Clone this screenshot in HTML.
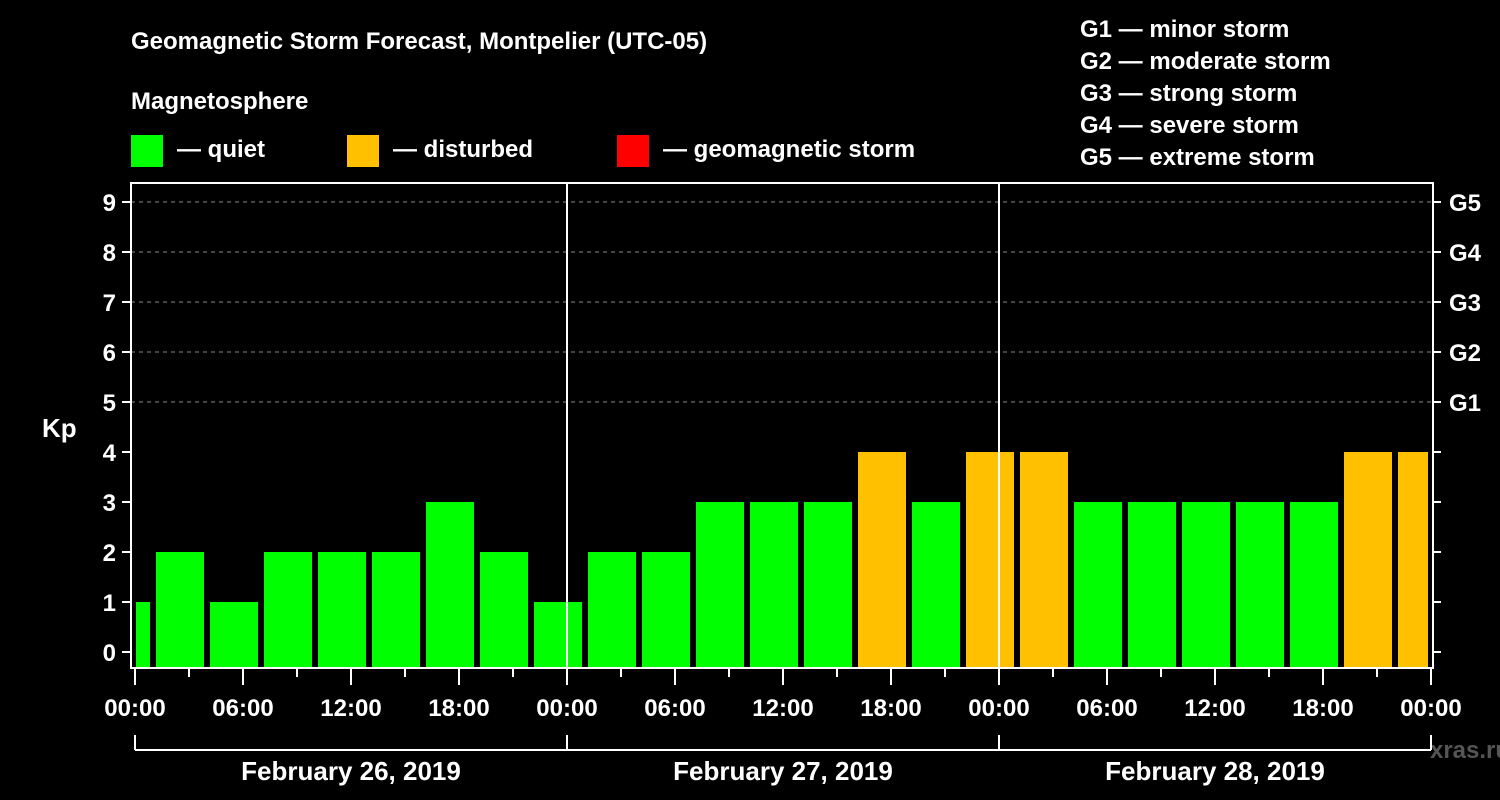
<!DOCTYPE html>
<html><head><meta charset="utf-8"><style>
html,body{margin:0;padding:0;background:#000;}
svg{display:block;font-family:"Liberation Sans",Arial,sans-serif;font-weight:bold;}
</style></head><body>
<svg id="chart" width="1500" height="800" viewBox="0 0 1500 800">
<rect width="1500" height="800" fill="#000"/>
<text x="131" y="49" fill="#fff" font-size="24">Geomagnetic Storm Forecast, Montpelier (UTC-05)</text>
<text x="131" y="109" fill="#fff" font-size="24">Magnetosphere</text>
<g><rect x="131" y="135" width="32" height="32" fill="#00ff00"/><text x="177" y="157" fill="#fff" font-size="24">— quiet</text></g>
<g><rect x="347" y="135" width="32" height="32" fill="#ffc000"/><text x="393" y="157" fill="#fff" font-size="24">— disturbed</text></g>
<g><rect x="617" y="135" width="32" height="32" fill="#ff0000"/><text x="663" y="157" fill="#fff" font-size="24">— geomagnetic storm</text></g>
<g fill="#fff" font-size="24">
<text x="1080" y="37">G1 — minor storm</text>
<text x="1080" y="69">G2 — moderate storm</text>
<text x="1080" y="101">G3 — strong storm</text>
<text x="1080" y="133">G4 — severe storm</text>
<text x="1080" y="165">G5 — extreme storm</text>
</g>
<text x="42" y="437" fill="#fff" font-size="26">Kp</text>
<text x="1470" y="758" fill="#555" font-size="24" text-anchor="middle">xras.ru</text>
<g id="grid"></g><g id="bars"></g><g id="axes"></g>
</svg>
<script>
const kpValues=[1,2,1,2,2,2,3,2,1,2,2,3,3,3,4,3,4,4,3,3,3,3,3,4,4];
const kpCategory=['q','q','q','q','q','q','q','q','q','q','q','q','q','q','d','q','d','d','q','q','q','q','q','d','d'];
const firstBarHour=-2;
const yTicks=[0,1,2,3,4,5,6,7,8,9];
const gLabels=['G1','G2','G3','G4','G5'];
const xTickLabels=['00:00','06:00','12:00','18:00','00:00','06:00','12:00','18:00','00:00','06:00','12:00','18:00','00:00'];
const dayLabels=['February 26, 2019','February 27, 2019','February 28, 2019'];

const NS='http://www.w3.org/2000/svg';
const L=131,R=1433,T=183,B=668;
const xOf=h=>135+18*h;
const yOf=v=>652-50*v;
function mk(tag,attrs,parent,txt){const e=document.createElementNS(NS,tag);for(const k in attrs)e.setAttribute(k,attrs[k]);if(txt!==undefined)e.textContent=txt;parent.appendChild(e);return e;}
const grid=document.getElementById('grid'),bars=document.getElementById('bars'),axes=document.getElementById('axes');
// grid
for(let v=5;v<=9;v++){const l=mk('line',{x1:L,x2:R,y1:yOf(v),y2:yOf(v),stroke:'#888','stroke-dasharray':'4,4','stroke-width':1},grid);

}
// bars
kpValues.forEach((v,i)=>{const h=firstBarHour+3*i;let x1=xOf(h)+3,x2=xOf(h+3)-3;x1=Math.max(x1,136);x2=Math.min(x2,1428);
const r=mk('rect',{x:x1,y:yOf(v),width:x2-x1,height:B-yOf(v),fill:kpCategory[i]==='d'?'#ffc000':(kpCategory[i]==='s'?'#ff0000':'#00ff00')},bars);

});
// day separators
[1,2].forEach(d=>{const l=mk('line',{x1:xOf(24*d),x2:xOf(24*d),y1:T,y2:B,stroke:'#fff','stroke-width':2},axes);

});
// frame
const f=mk('rect',{x:L,y:T,width:R-L,height:B-T,fill:'none',stroke:'#fff','stroke-width':2},axes);


// y ticks
yTicks.forEach(v=>{mk('line',{x1:122,x2:L,y1:yOf(v),y2:yOf(v),stroke:'#fff','stroke-width':2},axes);
mk('line',{x1:R,x2:1441,y1:yOf(v),y2:yOf(v),stroke:'#fff','stroke-width':2},axes);
const t=mk('text',{x:116,y:yOf(v)+9,fill:'#fff','font-size':24,'text-anchor':'end'},axes,String(v));

});
gLabels.forEach((g,i)=>{const t=mk('text',{x:1449,y:yOf(5+i)+9,fill:'#fff','font-size':24},axes,g);

});
// x ticks
for(let h=0;h<=72;h+=3){const major=h%6===0;mk('line',{x1:xOf(h),x2:xOf(h),y1:B,y2:major?685:677,stroke:'#fff','stroke-width':2},axes);}
xTickLabels.forEach((s,i)=>{const t=mk('text',{x:xOf(6*i),y:716,fill:'#fff','font-size':24,'text-anchor':'middle'},axes,s);

});
// day brackets
mk('line',{x1:xOf(0),x2:xOf(72),y1:750,y2:750,stroke:'#fff','stroke-width':2},axes);
for(let d=0;d<=3;d++)mk('line',{x1:xOf(24*d),x2:xOf(24*d),y1:735,y2:750,stroke:'#fff','stroke-width':2},axes);
dayLabels.forEach((s,i)=>{const t=mk('text',{x:xOf(24*i+12),y:780,fill:'#fff','font-size':26,'text-anchor':'middle'},axes,s);

});
</script>
</body></html>
